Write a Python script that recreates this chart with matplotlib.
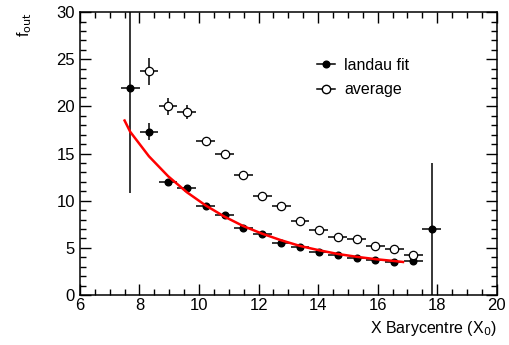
import matplotlib
matplotlib.use("Agg")
import matplotlib.pyplot as plt
from matplotlib.lines import Line2D
from matplotlib.ticker import MultipleLocator

plt.rcParams['font.family'] = ['Liberation Sans', 'DejaVu Sans']

# landau fit points
fit_x = [7.69, 8.32, 8.96, 9.59, 10.22, 10.86, 11.49, 12.12, 12.76, 13.39,
         14.02, 14.66, 15.29, 15.92, 16.56, 17.19, 17.82]
fit_y = [22.0, 17.3, 12.0, 11.3, 9.4, 8.5, 7.1, 6.5, 5.5, 5.1,
         4.6, 4.2, 3.9, 3.7, 3.5, 3.6, 7.0]
fit_yerr = [11.2, 0.9, 0.25, 0.25, 0.2, 0.2, 0.2, 0.15, 0.15, 0.15,
            0.15, 0.15, 0.15, 0.15, 0.15, 0.15, 7.0]

# average points
avg_x = [8.32, 8.96, 9.59, 10.22, 10.86, 11.49, 12.12, 12.76, 13.39,
         14.02, 14.66, 15.29, 15.92, 16.56, 17.19]
avg_y = [23.7, 20.0, 19.4, 16.3, 14.9, 12.7, 10.5, 9.4, 7.85,
         6.9, 6.2, 5.9, 5.2, 4.85, 4.2]
avg_yerr = [1.4, 0.9, 0.7, 0.3, 0.25, 0.2, 0.2, 0.15, 0.15,
            0.15, 0.15, 0.15, 0.15, 0.15, 0.15]

half_bin = 0.316

# red fitted curve
curve_x = [7.5, 7.69, 8.32, 8.96, 9.59, 10.22, 10.86, 11.49, 12.12, 12.76,
           13.39, 14.02, 14.66, 15.29, 15.92, 16.56, 16.85]
curve_y = [18.5, 17.3, 14.7, 12.6, 10.9, 9.5, 8.3, 7.3, 6.5, 5.8,
           5.2, 4.75, 4.35, 4.05, 3.8, 3.6, 3.5]

fig = plt.figure(figsize=(5.09, 3.45), dpi=100)
ax = fig.add_axes([0.157, 0.145, 0.819, 0.82])

ax.errorbar(fit_x, fit_y, yerr=fit_yerr, xerr=half_bin, fmt='o', color='black',
            mfc='black', ms=4.8, elinewidth=1.1, capsize=0, zorder=3)
ax.errorbar(avg_x, avg_y, yerr=avg_yerr, xerr=half_bin, fmt='o', color='black',
            mfc='white', mec='black', ms=6, mew=0.9, elinewidth=1.1, capsize=0, zorder=3)
ax.plot(curve_x, curve_y, color='red', lw=1.8, zorder=4)

ax.set_xlim(6, 20)
ax.set_ylim(0, 30)
ax.xaxis.set_major_locator(MultipleLocator(2))
ax.xaxis.set_minor_locator(MultipleLocator(0.5))
ax.yaxis.set_major_locator(MultipleLocator(5))
ax.yaxis.set_minor_locator(MultipleLocator(1))
ax.tick_params(which='both', direction='in', top=True, right=True, labelsize=12, width=1)
ax.tick_params(which='major', length=8)
ax.tick_params(which='minor', length=4)
ax.tick_params(axis='x', pad=2.5)
for s in ax.spines.values():
    s.set_linewidth(1.1)

ax.set_xlabel('X Barycentre (X$_0$)', fontsize=11.5, loc='right', labelpad=4)
ax.set_ylabel('f$_{\\mathrm{out}}$', fontsize=11.5, loc='top', labelpad=16)

handles = [Line2D([], [], color='black', marker='o', mfc='black', ms=4.8, lw=1.1),
           Line2D([], [], color='black', marker='o', mfc='white', ms=6, lw=1.1)]
ax.legend(handles, ['landau fit', 'average'], loc='upper left',
          bbox_to_anchor=(0.535, 0.89), frameon=False, fontsize=11.5,
          handlelength=1.1, handletextpad=0.6, labelspacing=0.6)

fig.savefig('out.png', dpi=100)
